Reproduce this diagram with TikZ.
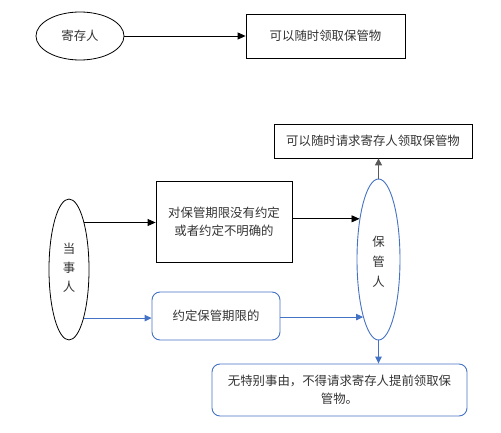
\documentclass[tikz,border=0pt]{standalone}
\usepackage{fontspec}
\setmainfont{Noto Sans CJK SC}
\usetikzlibrary{shapes.geometric,arrows.meta}
\definecolor{lineblue}{HTML}{4472C4}
\definecolor{txt}{HTML}{333333}
\tikzset{
  every node/.style={font=\fontsize{12.4}{18}\selectfont, text=txt},
  blackbox/.style={draw=black, line width=0.8pt, rectangle, inner sep=0pt},
  bluebox/.style={draw=lineblue, line width=0.9pt, rectangle, rounded corners=8pt, inner sep=0pt},
  ell/.style={draw=black, line width=0.8pt, ellipse, inner sep=0pt},
  blueell/.style={draw=lineblue, line width=0.9pt, ellipse, inner sep=0pt},
  blackarrow/.style={draw=black, line width=0.8pt, -{Triangle[length=8pt,width=7pt]}},
  grayarrow/.style={draw=black!65, line width=1.2pt, -{Triangle[length=7pt,width=7pt]}},
  bluearrow/.style={draw=lineblue, line width=0.9pt, -{Triangle[length=7pt,width=6.5pt]}},
}
\begin{document}
\begin{tikzpicture}[x=1pt,y=-1pt]
\useasboundingbox (0,0) rectangle (501,433);
% top
\node[ell, minimum width=88pt, minimum height=48pt] (jcr) at (80,36) {寄存人};
\node[blackbox, minimum width=159pt, minimum height=44pt] (kysl) at (325.5,36) {可以随时领取保管物};
\draw[blackarrow] (jcr.east) -- (kysl.west);
% lower
\node[blackbox, minimum width=198pt, minimum height=34pt] (kysq) at (373,141) {可以随时请求寄存人领取保管物};
\node[blueell, minimum width=43pt, minimum height=161pt] (bgr) at (378.5,259.5) {};
\node[align=center, font=\fontsize{12.4}{20}\selectfont] (bgrtext) at (378.5,262) {保\\管\\人};
\node[ell, minimum width=40pt, minimum height=141pt] (dsr) at (69,269.5) {};
\node[align=center, font=\fontsize{12.4}{19}\selectfont] (dsrtext) at (69,268) {当\\事\\人};
\node[blackbox, minimum width=136pt, minimum height=81pt, align=center] (dbg) at (224,221.5) {对保管期限没有约定\\或者约定不明确的};
\node[bluebox, minimum width=128pt, minimum height=48pt] (yd) at (216,316) {约定保管期限的};
\node[bluebox, minimum width=255pt, minimum height=52pt, align=center, text width=240pt] (wtb) at (339.5,390) {无特别事由，不得请求寄存人提前领取保\\管物。};
\draw[blackarrow] (dsr.72) -- (dsr.72 -| dbg.west);
\draw[blackarrow] (bgr.115.3 -| dbg.east) -- (bgr.115.3);
\draw[grayarrow] (bgr.north) -- (bgr.north |- kysq.south);
\draw[bluearrow] (dsr.-73) -- (dsr.-73 -| yd.west);
\draw[bluearrow] (bgr.255.8 -| yd.east) -- (bgr.255.8);
\draw[bluearrow] (bgr.south) -- (bgr.south |- wtb.north);
\end{tikzpicture}
\end{document}
